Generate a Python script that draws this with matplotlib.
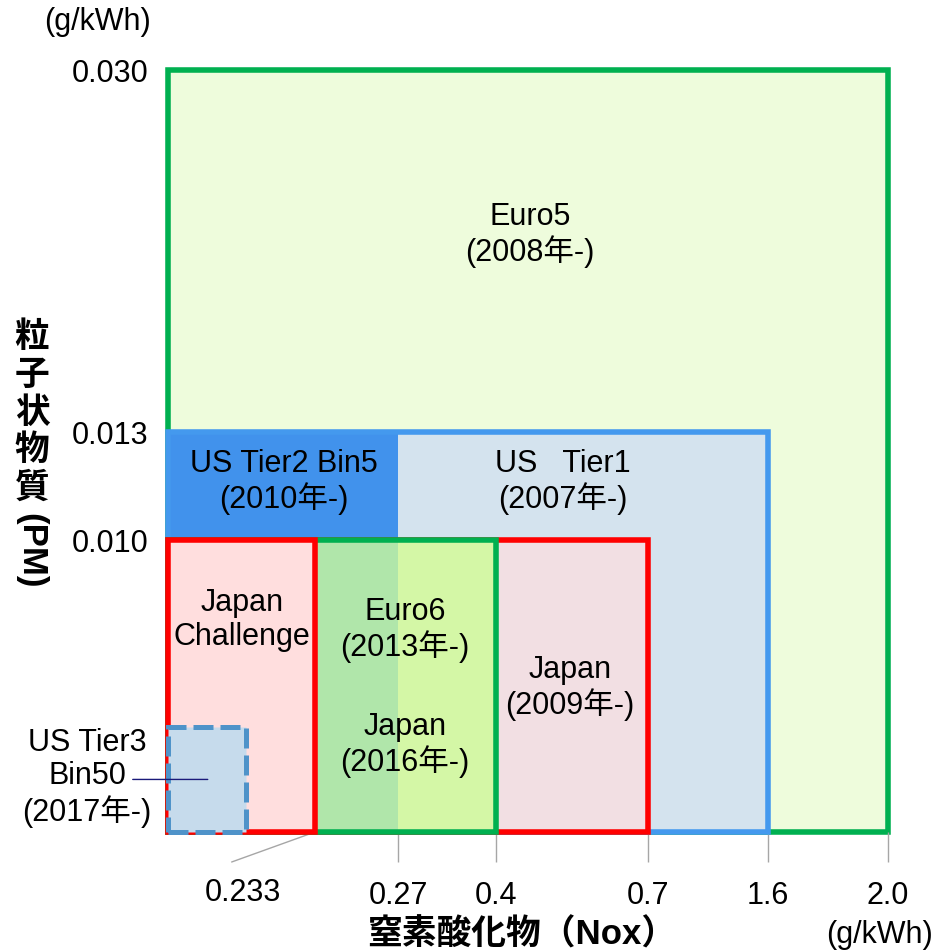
import numpy as np
import matplotlib
matplotlib.use("Agg")
import matplotlib.pyplot as plt
from matplotlib.patches import Rectangle

plt.rcParams['font.family'] = ['Liberation Sans', 'Noto Sans CJK JP', 'DejaVu Sans']

# NOx (x) and PM (y) limits, g/kWh
nox_ticks = [0.27, 0.4, 0.7, 1.6, 2.0]
nox_tick_labels = ['0.27', '0.4', '0.7', '1.6', '2.0']
pm_ticks = [0.010, 0.013, 0.030]
pm_tick_labels = ['0.010', '0.013', '0.030']

euro5 = (2.0, 0.030)
us_tier1 = (1.6, 0.013)
us_tier2_bin5 = (0.27, 0.013)
japan_2009 = (0.7, 0.010)
euro6 = (0.4, 0.010)
japan_challenge = (0.233, 0.010)
us_tier3_bin50 = (0.124, 0.0036)

# schematic (non-linear) axis: value -> pixel offset
nox_breaks = [0, 0.233, 0.27, 0.4, 0.7, 1.6, 2.0]
nox_pix = [0, 147, 230, 328, 480, 600, 720]
pm_breaks = [0, 0.010, 0.013, 0.030]
pm_pix = [0, 292, 400, 762]

W, H = 932, 951
fig = plt.figure(figsize=(W / 100, H / 100), dpi=100)
ax = fig.add_axes([168 / W, 1 - 832 / H, 720 / W, 762 / H])


def px(x, y):
    return x / W, 1 - y / H


ax.set_xscale('function', functions=(lambda v: np.interp(v, nox_breaks, nox_pix),
                                     lambda p: np.interp(p, nox_pix, nox_breaks)))
ax.set_yscale('function', functions=(lambda v: np.interp(v, pm_breaks, pm_pix),
                                     lambda p: np.interp(p, pm_pix, pm_breaks)))
ax.set_xlim(0, 2.0)
ax.set_ylim(0, 0.030)


def box(lim, x0=0, face='none', edge='none', lw=4, z=1, ls='-'):
    r = Rectangle((x0, 0), lim[0] - x0, lim[1], facecolor=face, edgecolor=edge,
                  linewidth=lw, zorder=z, clip_on=False, linestyle=ls)
    ax.add_patch(r)


green, red, blue = '#00B050', '#FF0000', '#4499EE'
box(euro5, face='#EEFCDC', edge=green, z=1)
box(us_tier1, face='#D4E3EE', z=2)
box(us_tier2_bin5, face='#4192EC', z=3)
box(us_tier1, edge=blue, z=4)
box(japan_2009, face='#F2DFE3', edge=red, z=5)
box(us_tier2_bin5[:1] + euro6[1:], face='#B0E6AA', z=6)
box(euro6, x0=us_tier2_bin5[0], face='#D4F7A6', z=6)
box(euro6, edge=green, z=7)
box(japan_challenge, face='#FFDEDE', edge=red, z=8)
box(us_tier3_bin50, face='#C6DBEC', edge='#4F93C9', lw=3.6, z=9, ls=(0, (4, 1.4)))

for s in ['top', 'right', 'bottom']:
    ax.spines[s].set_visible(False)
ax.spines['left'].set_color('#A6A6A6')
ax.spines['left'].set_zorder(0.5)

fs = 22
ax.set_xticks(nox_ticks)
ax.set_xticklabels(nox_tick_labels, fontsize=fs)
ax.tick_params(axis='x', length=21.6, width=1, color='#A6A6A6', pad=14)
ax.set_yticks(pm_ticks)
ax.set_yticklabels(pm_tick_labels, fontsize=fs)
ax.tick_params(axis='y', length=0, pad=14)
ax.minorticks_off()

# 0.233 leader
ax.annotate('', xy=(japan_challenge[0], 0), xytext=(-60, -21.6), textcoords='offset points',
            arrowprops=dict(arrowstyle='-', color='#A6A6A6', lw=1, shrinkA=0, shrinkB=0),
            annotation_clip=False)
fig.text(*px(243, 893), '0.233', fontsize=fs, ha='center', va='center')

# Tier3 leader
ax.annotate('', xy=(0.063, 0.0018), xytext=(-54, 0), textcoords='offset points',
            arrowprops=dict(arrowstyle='-', color='#1A1A7A', lw=1, shrinkA=0, shrinkB=0),
            annotation_clip=False, zorder=10)

labels = [
    ('Euro5\n(2008年-)', 530, 235),
    ('US Tier2 Bin5\n(2010年-)', 284, 482),
    ('US   Tier1\n(2007年-)', 563, 482),
    ('Japan\nChallenge', 242, 620),
    ('Euro6\n(2013年-)', 405, 630),
    ('Japan\n(2016年-)', 405, 745),
    ('Japan\n(2009年-)', 570, 688),
    ('US Tier3\nBin50\n(2017年-)', 87, 778),
]
for txt, x, y in labels:
    fig.text(*px(x, y), txt, fontsize=fs, ha='center', va='center', multialignment='center',
             linespacing=1.15, zorder=20)

fig.text(*px(97, 22), '(g/kWh)', fontsize=fs, ha='center', va='center')
fig.text(*px(880, 935), '(g/kWh)', fontsize=fs, ha='center', va='center')
fig.text(*px(522, 935), '窒素酸化物（Nox）', fontsize=25, fontweight='bold', ha='center', va='center')

# vertical y label, one glyph per row
for i, ch in enumerate('粒子状物質'):
    fig.text(*px(32, 338 + i * 37.5), ch, fontsize=25, fontweight='bold', ha='center', va='center')
fig.text(*px(31, 551), '(PM)', fontsize=25, fontweight='bold', ha='center', va='center', rotation=-90)

fig.savefig('out.png', dpi=100)
